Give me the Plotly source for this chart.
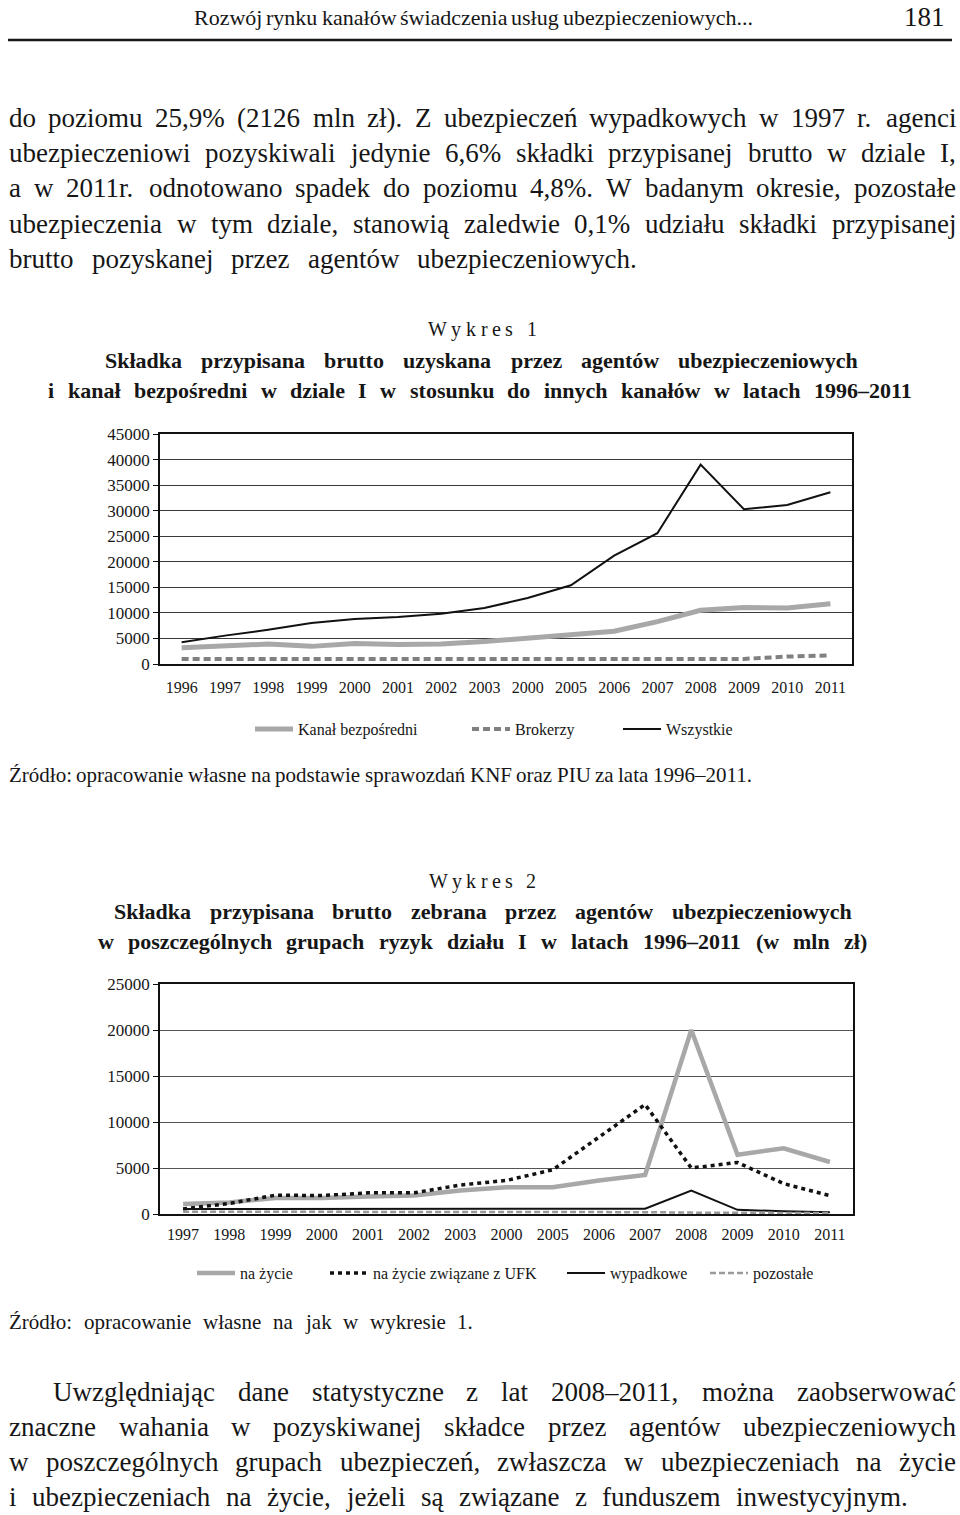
import plotly.graph_objects as go

W, H = 960, 1515
FONT = "Liberation Serif"
INK = "#161616"

# ---------------- data ----------------
years1 = ["1996", "1997", "1998", "1999", "2000", "2001", "2002", "2003",
          "2000", "2005", "2006", "2007", "2008", "2009", "2010", "2011"]
kanal_bezposredni = [3200, 3450, 3900, 3450, 4000, 3800, 3900, 4400,
                     5100, 5650, 6400, 8300, 10500, 11050, 10950, 11800]
brokerzy = [1000, 1000, 1000, 1000, 1000, 1000, 1000, 1000,
            1000, 1000, 1000, 1000, 1000, 1000, 1450, 1700]
wszystkie = [4250, 5550, 6700, 8000, 8800, 9200, 9850, 10950,
             12900, 15400, 21200, 25600, 39000, 30300, 31100, 33600]
yticks1 = [0, 5000, 10000, 15000, 20000, 25000, 30000, 35000, 40000, 45000]

years2 = ["1997", "1998", "1999", "2000", "2001", "2002", "2003", "2000",
          "2005", "2006", "2007", "2008", "2009", "2010", "2011"]
na_zycie = [1100, 1250, 1750, 1750, 1900, 2000, 2550, 2900,
            2900, 3650, 4250, 20000, 6450, 7150, 5650]
na_zycie_ufk = [550, 1150, 2050, 2000, 2300, 2300, 3150, 3650,
                4800, 8350, 11900, 5000, 5600, 3300, 2000]
wypadkowe = [550, 550, 550, 550, 560, 560, 560, 570,
             570, 570, 580, 2550, 450, 300, 200]
pozostale = [250, 250, 250, 250, 250, 250, 250, 250,
             250, 200, 200, 150, 150, 120, 100]
yticks2 = [0, 5000, 10000, 15000, 20000, 25000]

# ---------------- text metrics (Times / Liberation Serif) ----------------
REG = {' ': .25, 'a': .444, 'b': .5, 'c': .444, 'd': .5, 'e': .444, 'f': .333, 'g': .5,
       'h': .5, 'i': .278, 'j': .278, 'k': .5, 'l': .278, 'm': .778, 'n': .5, 'o': .5,
       'p': .5, 'q': .5, 'r': .333, 's': .389, 't': .278, 'u': .5, 'v': .5, 'w': .722,
       'x': .5, 'y': .5, 'z': .444, 'ą': .444, 'ć': .444, 'ę': .444, 'ł': .278, 'ń': .5,
       'ó': .5, 'ś': .389, 'ź': .444, 'ż': .444,
       'A': .722, 'B': .667, 'C': .667, 'D': .722, 'E': .611, 'F': .556, 'G': .722,
       'H': .722, 'I': .333, 'J': .389, 'K': .722, 'L': .611, 'M': .889, 'N': .722,
       'O': .722, 'P': .556, 'Q': .722, 'R': .667, 'S': .556, 'T': .611, 'U': .722,
       'V': .722, 'W': .944, 'X': .722, 'Y': .722, 'Z': .611, 'Ź': .611, 'Ż': .611,
       'Ś': .556, 'Ł': .611, ',': .25, '.': .25, '%': .833, '(': .333, ')': .333,
       '–': .5, ':': .278, '-': .333}
BOLD = dict(REG)
BOLD.update({'a': .5, 'b': .556, 'd': .556, 'h': .556, 'j': .333, 'k': .556, 'm': .833,
             'n': .556, 'p': .556, 'q': .556, 'r': .444, 't': .333, 'u': .556, 'ą': .5,
             'ń': .556, 'I': .389, 'W': 1.0, ' ': .25})


def tw(s, table, size):
    return sum(table.get(ch, .5) for ch in s) * size


annotations = []


def put(text, x, y, size, bold=False, anchor="left"):
    annotations.append(dict(
        x=x / W, y=1 - y / H, xref="paper", yref="paper", xanchor=anchor,
        yanchor="middle", text=text, showarrow=False, borderpad=0,
        font=dict(family=FONT, size=size, color=INK,
                  weight="bold" if bold else "normal")))


def line(text, x0, x1, y, size, bold=False):
    table = BOLD if bold else REG
    words = text.split(" ")
    widths = [tw(w, table, size) for w in words]
    gap = (x1 - x0 - sum(widths)) / max(len(words) - 1, 1)
    x = x0
    for w, wd in zip(words, widths):
        put(w, x, y, size, bold)
        x += wd + gap


def spaced(text, x0, x1, y, size):
    widths = [tw(c, REG, size) for c in text]
    gap = (x1 - x0 - sum(widths)) / (len(text) - 1)
    x = x0
    for c, wd in zip(text, widths):
        if c != " ":
            put(c, x, y, size)
        x += wd + gap


# header
line("Rozwój rynku kanałów świadczenia usług ubezpieczeniowych...", 193, 752, 17, 22)
put("181", 946, 17, 27, anchor="right")

# first paragraph
BODY = 27
para1 = [
    ("do poziomu 25,9% (2126 mln zł). Z ubezpieczeń wypadkowych w 1997 r. agenci", 8, 955, 118),
    ("ubezpieczeniowi pozyskiwali jedynie 6,6% składki przypisanej brutto w dziale I,", 8, 955, 153),
    ("a w 2011r. odnotowano spadek do poziomu 4,8%. W badanym okresie, pozostałe", 8, 955, 188),
    ("ubezpieczenia w tym dziale, stanowią zaledwie 0,1% udziału składki przypisanej", 8, 955, 224),
    ("brutto pozyskanej przez agentów ubezpieczeniowych.", 8, 636, 259),
]
for t, a, b, y in para1:
    line(t, a, b, y, BODY)

spaced("Wykres 1", 427, 536, 329, 20)
line("Składka przypisana brutto uzyskana przez agentów ubezpieczeniowych", 104, 857, 360, 22, True)
line("i kanał bezpośredni w dziale I w stosunku do innych kanałów w latach 1996–2011", 47, 912, 390, 22, True)

line("Źródło: opracowanie własne na podstawie sprawozdań KNF oraz PIU za lata 1996–2011.", 8, 752, 775, 21)

spaced("Wykres 2", 428, 535, 881, 20)
line("Składka przypisana brutto zebrana przez agentów ubezpieczeniowych", 113, 851, 911, 22, True)
line("w poszczególnych grupach ryzyk działu I w latach 1996–2011 (w mln zł)", 97, 866, 941, 22, True)

line("Źródło: opracowanie własne na jak w wykresie 1.", 8, 472, 1322, 21)

para2 = [
    ("Uwzględniając dane statystyczne z lat 2008–2011, można zaobserwować", 52, 955, 1392),
    ("znaczne wahania w pozyskiwanej składce przez agentów ubezpieczeniowych", 8, 955, 1427),
    ("w poszczególnych grupach ubezpieczeń, zwłaszcza w ubezpieczeniach na życie", 8, 955, 1462),
    ("i ubezpieczeniach na życie, jeżeli są związane z funduszem inwestycyjnym.", 8, 907, 1497),
]
for t, a, b, y in para2:
    line(t, a, b, y, BODY)

# ---------------- figure ----------------
fig = go.Figure()
x1 = list(range(len(years1)))
x2 = list(range(len(years2)))

fig.add_trace(go.Scatter(x=x1, y=kanal_bezposredni, mode="lines", name="Kanał bezpośredni",
                         line=dict(color="#a8a8a8", width=5), xaxis="x", yaxis="y",
                         legend="legend"))
fig.add_trace(go.Scatter(x=x1, y=brokerzy, mode="lines", name="Brokerzy",
                         line=dict(color="#808080", width=4, dash="7px,4px"),
                         xaxis="x", yaxis="y", legend="legend2"))
fig.add_trace(go.Scatter(x=x1, y=wszystkie, mode="lines", name="Wszystkie",
                         line=dict(color="#111111", width=2), xaxis="x", yaxis="y",
                         legend="legend3"))

fig.add_trace(go.Scatter(x=x2, y=na_zycie, mode="lines", name="na życie",
                         line=dict(color="#a8a8a8", width=4.5), xaxis="x2", yaxis="y2",
                         legend="legend4"))
fig.add_trace(go.Scatter(x=x2, y=na_zycie_ufk, mode="lines", name="na życie związane z UFK",
                         line=dict(color="#111111", width=3.5, dash="4px,4px"),
                         xaxis="x2", yaxis="y2", legend="legend5"))
fig.add_trace(go.Scatter(x=x2, y=wypadkowe, mode="lines", name="wypadkowe",
                         line=dict(color="#111111", width=2), xaxis="x2", yaxis="y2",
                         legend="legend6"))
fig.add_trace(go.Scatter(x=x2, y=pozostale, mode="lines", name="pozostałe",
                         line=dict(color="#9a9a9a", width=2.5, dash="6px,3px"),
                         xaxis="x2", yaxis="y2", legend="legend7"))

tickfont_x = dict(family=FONT, size=16, color=INK)
tickfont_y = dict(family=FONT, size=17, color=INK)

xcommon = dict(showgrid=False, zeroline=False, showline=True, linecolor="#111",
               linewidth=1.5, mirror=True, ticks="", tickfont=tickfont_x,
               fixedrange=True, automargin=False)
ycommon = dict(showgrid=True, gridcolor="#3a3a3a", gridwidth=1, zeroline=False,
               showline=True, linecolor="#111", linewidth=1.5, mirror=True,
               ticks="outside", ticklen=5, tickcolor="#111", tickwidth=1,
               tickfont=tickfont_y, fixedrange=True, automargin=False)

legend_common = dict(orientation="h", xanchor="left", yanchor="middle",
                     bgcolor="rgba(0,0,0,0)", borderwidth=0, itemwidth=38,
                     font=dict(family=FONT, size=16, color=INK))


def leg(px, py):
    d = dict(legend_common)
    d.update(x=(px - 5) / W, y=1 - py / H)
    return d


fig.update_layout(
    template="none",
    width=W, height=H, margin=dict(l=0, r=0, t=0, b=0, pad=0, autoexpand=False),
    paper_bgcolor="white", plot_bgcolor="white", showlegend=True,
    xaxis=dict(xcommon, domain=[160 / W, 852 / W], range=[-0.5, 15.5],
               tickvals=x1, ticktext=years1, anchor="y", ticklabelstandoff=8),
    yaxis=dict(ycommon, domain=[1 - 664 / H, 1 - 434 / H], range=[0, 45000],
               tickvals=yticks1, ticktext=[str(v) for v in yticks1], anchor="x"),
    xaxis2=dict(xcommon, domain=[160 / W, 853 / W], range=[-0.5, 14.5],
                tickvals=x2, ticktext=years2, anchor="y2", ticklabelstandoff=5),
    yaxis2=dict(ycommon, domain=[1 - 1214 / H, 1 - 984 / H], range=[0, 25000],
                tickvals=yticks2, ticktext=[str(v) for v in yticks2], anchor="x2",
                gridcolor="#555555"),
    legend=leg(255, 729), legend2=leg(472, 729), legend3=leg(623, 729),
    legend4=leg(197, 1273), legend5=leg(330, 1273), legend6=leg(567, 1273),
    legend7=leg(710, 1273),
    annotations=annotations,
    shapes=[dict(type="line", xref="paper", yref="paper", x0=8 / W, x1=952 / W,
                 y0=1 - 40 / H, y1=1 - 40 / H, line=dict(color=INK, width=2.5))],
)

fig.write_html("out.html", config={"displayModeBar": False})
